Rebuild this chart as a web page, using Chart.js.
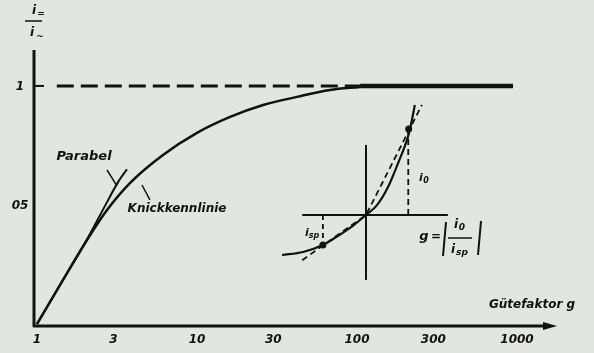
<!DOCTYPE html>
<html>
<head>
<meta charset="utf-8">
<script src="https://cdn.jsdelivr.net/npm/chart.js@4/dist/chart.umd.min.js"></script>
<style>
  html, body { margin: 0; padding: 0; background: #e3e5e0; }
  canvas { display: block; }
</style>
</head>
<body>
<canvas id="chart" width="594" height="353"></canvas>
<script>
// Main diagram: Gütefaktor g (log) vs i=/i~
var knickG = [1, 1.454, 2.054, 2.74, 3.81, 6.13, 10.0, 16.1, 25.9, 42.2, 67.8, 104.5];
var knickV = [0, 0.185, 0.353, 0.479, 0.592, 0.710, 0.803, 0.870, 0.920, 0.954, 0.983, 0.996];

var parabelG = [1, 1.454, 2.054, 2.74, 3.21, 3.65];
var parabelV = [0, 0.185, 0.355, 0.512, 0.596, 0.65];

var flatG = [104.5, 944];
var flatV = [1, 1];

var refG = [1.33, 104.5];
var refV = [1, 1];

// little pointer strokes from the labels to the curves
var parabelPtrG = [2.74, 3.16];
var parabelPtrV = [0.647, 0.58];
var knickPtrG = [4.53, 5.08];
var knickPtrV = [0.584, 0.521];

var xTicks = [1, 3, 10, 30, 100, 300, 1000];
var xTickLabels = ['1', '3', '10', '30', '100', '300', '1000'];
var yTicks = [0.5, 1];
var yTickLabels = ['05', '1'];

// Inset: diode characteristic (u, i)
var insetCurveU = [-1.91, -1.43, -0.98, -0.66, -0.3, 0, 0.25, 0.5, 0.73, 0.93, 1.0, 1.11];
var insetCurveI = [-0.93, -0.86, -0.70, -0.50, -0.25, 0, 0.23, 0.65, 1.21, 1.74, 2.0, 2.56];
var chordU = [-1.45, 0, 1.27];
var chordI = [-1.05, 0, 2.56];
var insetAxisHU = [-1.45, 1.86];
var insetAxisHI = [0, 0];
var insetAxisVU = [0, 0];
var insetAxisVI = [-1.51, 1.63];
var i0U = [0.96, 0.96];
var i0I = [0, 2.0];
var ispU = [-0.98, -0.98];
var ispI = [0, -0.70];
var dotU = [0.97, -0.98];
var dotI = [2.0, -0.70];

var INK = '#121212';
var FONT = 'italic bold 12px "DejaVu Sans"';

function pts(xs, ys) {
    return xs.map(function(x, i) { return { x: x, y: ys[i] }; });
}

function line(data, opts, inset) {
    var ds = {
        data: data,
        borderColor: INK,
        backgroundColor: INK,
        borderWidth: 2,
        pointRadius: 0,
        fill: false,
        tension: 0,
        xAxisID: inset ? 'ix' : 'x',
        yAxisID: inset ? 'iy' : 'y'
    };
    for (var k in opts) ds[k] = opts[k];
    return ds;
}

// background, axes, labels
var decorPlugin = {
    id: 'decor',
    beforeDraw: function(chart) {
        var ctx = chart.ctx;
        ctx.save();
        ctx.fillStyle = '#e3e5e0';
        ctx.fillRect(0, 0, chart.width, chart.height);
        ctx.restore();
    },
    afterDraw: function(chart) {
        var ctx = chart.ctx;
        var a = chart.chartArea;
        var xs = chart.scales.x, ys = chart.scales.y;
        var y0 = a.bottom;
        ctx.save();
        ctx.strokeStyle = INK;
        ctx.fillStyle = INK;
        ctx.lineWidth = 3;
        // y axis
        ctx.beginPath();
        ctx.moveTo(a.left, a.top);
        ctx.lineTo(a.left, y0 + 1);
        ctx.stroke();
        // x axis with arrow
        ctx.beginPath();
        ctx.moveTo(a.left - 1, y0);
        ctx.lineTo(a.right - 10, y0);
        ctx.stroke();
        ctx.beginPath();
        ctx.moveTo(a.right, y0);
        ctx.lineTo(a.right - 14, y0 - 4);
        ctx.lineTo(a.right - 14, y0 + 4);
        ctx.closePath();
        ctx.fill();
        // tick at 1
        ctx.lineWidth = 2;
        var y1 = ys.getPixelForValue(1);
        ctx.beginPath();
        ctx.moveTo(a.left, y1);
        ctx.lineTo(a.left + 10, y1);
        ctx.stroke();

        ctx.font = FONT;
        ctx.textAlign = 'center';
        ctx.textBaseline = 'middle';
        xTicks.forEach(function(t, i) {
            ctx.fillText(xTickLabels[i], xs.getPixelForValue(t), 340);
        });
        yTicks.forEach(function(t, i) {
            ctx.fillText(yTickLabels[i], 20, ys.getPixelForValue(t) + 1);
        });

        // axis titles
        ctx.fillText('Gütefaktor g', 532, 305);
        ctx.font = 'italic bold 12px "DejaVu Sans"';
        ctx.fillText('i', 34, 11);
        ctx.font = 'bold 9px "DejaVu Sans"';
        ctx.fillText('=', 41, 14);
        ctx.font = 'italic bold 12px "DejaVu Sans"';
        ctx.fillText('i', 32, 33);
        ctx.font = 'bold 9px "DejaVu Sans"';
        ctx.fillText('~', 40, 37);
        ctx.lineWidth = 1.5;
        ctx.beginPath();
        ctx.moveTo(25, 21);
        ctx.lineTo(42, 21);
        ctx.stroke();

        // curve labels
        ctx.font = 'italic bold 13px "DejaVu Sans"';
        ctx.fillText('Parabel', 84, 157);
        ctx.font = FONT;
        ctx.fillText('Knickkennlinie', 177, 209);

        // inset labels
        ctx.font = 'italic bold 11px "DejaVu Sans"';
        ctx.fillText('i', 421, 178);
        ctx.font = 'italic bold 8px "DejaVu Sans"';
        ctx.fillText('0', 426, 181);
        ctx.font = 'italic bold 11px "DejaVu Sans"';
        ctx.fillText('i', 307, 233);
        ctx.font = 'italic bold 8px "DejaVu Sans"';
        ctx.fillText('sp', 314, 236);

        ctx.font = 'italic bold 13px "DejaVu Sans"';
        ctx.fillText('g', 424, 237);
        ctx.font = 'bold 12px "DejaVu Sans"';
        ctx.fillText('=', 436, 237);
        ctx.font = 'italic bold 12px "DejaVu Sans"';
        ctx.fillText('i', 456, 225);
        ctx.font = 'italic bold 9px "DejaVu Sans"';
        ctx.fillText('0', 462, 228);
        ctx.font = 'italic bold 12px "DejaVu Sans"';
        ctx.fillText('i', 453, 250);
        ctx.font = 'italic bold 9px "DejaVu Sans"';
        ctx.fillText('sp', 462, 253);
        ctx.lineWidth = 1.5;
        ctx.beginPath();
        ctx.moveTo(448, 238);
        ctx.lineTo(472, 238);
        ctx.stroke();
        ctx.lineWidth = 2;
        ctx.beginPath();
        ctx.moveTo(446, 222);
        ctx.lineTo(443, 256);
        ctx.moveTo(481, 221);
        ctx.lineTo(478, 255);
        ctx.stroke();
        ctx.restore();
    }
};

var chart = new Chart(document.getElementById('chart').getContext('2d'), {
    type: 'line',
    data: {
        datasets: [
            line(pts(refG, refV), { borderDash: [17, 7], borderWidth: 3 }),
            line(pts(knickG, knickV), { borderWidth: 2.5, cubicInterpolationMode: 'monotone' }),
            line(pts(flatG, flatV), { borderWidth: 4.5 }),
            line(pts(parabelG, parabelV), { borderWidth: 2, cubicInterpolationMode: 'monotone' }),
            line(pts(parabelPtrG, parabelPtrV), { borderWidth: 1.5 }),
            line(pts(knickPtrG, knickPtrV), { borderWidth: 1.5 }),
            line(pts(insetAxisHU, insetAxisHI), { borderWidth: 2 }, true),
            line(pts(insetAxisVU, insetAxisVI), { borderWidth: 2 }, true),
            line(pts(insetCurveU, insetCurveI), { borderWidth: 2.2, cubicInterpolationMode: 'monotone' }, true),
            line(pts(chordU, chordI), { borderWidth: 1.8, borderDash: [6, 4] }, true),
            line(pts(i0U, i0I), { borderWidth: 1.8, borderDash: [6, 4] }, true),
            line(pts(ispU, ispI), { borderWidth: 1.8, borderDash: [5, 4] }, true),
            line(pts(dotU, dotI), { showLine: false, pointRadius: 2.5 }, true)
        ]
    },
    options: {
        responsive: false,
        animation: false,
        devicePixelRatio: 1,
        layout: { padding: { left: 34, top: 50, right: 37, bottom: 27 } },
        plugins: { legend: { display: false }, tooltip: { enabled: false } },
        scales: {
            x: { type: 'logarithmic', display: false, min: 0.958, max: 1778 },
            y: { type: 'linear', display: false, min: -0.0084, max: 1.151 },
            ix: { type: 'linear', display: false, min: -7.545, max: 4.34 },
            iy: { type: 'linear', display: false, min: -2.581, max: 3.837 }
        }
    },
    plugins: [decorPlugin]
});
</script>
</body>
</html>
